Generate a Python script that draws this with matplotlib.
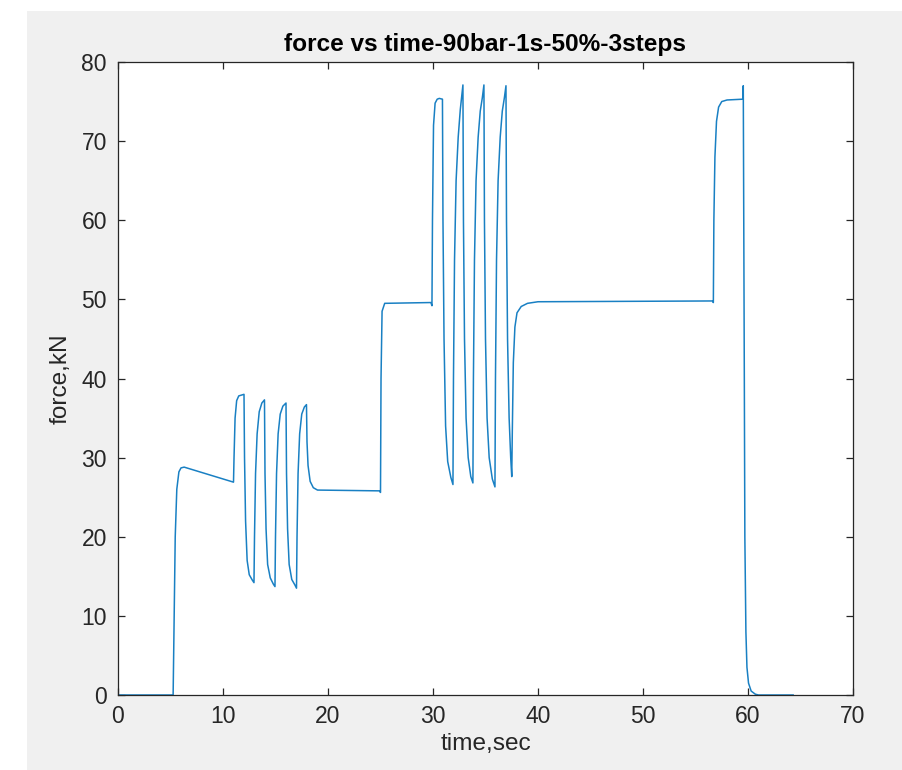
import matplotlib
matplotlib.use("Agg")
import matplotlib.pyplot as plt
from matplotlib.patches import Rectangle

# Waypoints (time in s, force in kN)
time_s = [
    0.0, 5.25, 5.35, 5.45, 5.6, 5.8, 6.0, 6.3, 11.0,
    11.05, 11.15, 11.3, 11.5, 12.0,
    12.05, 12.15, 12.3, 12.5, 12.8, 12.95,
    13.0, 13.1, 13.25, 13.45, 13.7, 13.95,
    14.0, 14.1, 14.25, 14.5, 14.8, 14.95,
    15.0, 15.1, 15.25, 15.45, 15.7, 16.0,
    16.05, 16.15, 16.3, 16.55, 16.85, 17.0,
    17.05, 17.15, 17.3, 17.5, 17.75, 17.95,
    18.0, 18.1, 18.3, 18.6, 19.0, 24.9, 25.0,
    25.05, 25.15, 25.4, 29.8, 29.9,
    29.95, 30.05, 30.2, 30.4, 30.6, 30.9,
    30.95, 31.05, 31.2, 31.4, 31.7, 31.9,
    31.95, 32.05, 32.2, 32.4, 32.6, 32.75, 32.85,
    32.9, 33.0, 33.15, 33.35, 33.6, 33.8,
    33.85, 33.95, 34.1, 34.3, 34.5, 34.7, 34.85,
    34.9, 35.0, 35.15, 35.35, 35.65, 35.9,
    35.95, 36.05, 36.2, 36.4, 36.6, 36.8, 36.95,
    37.0, 37.1, 37.25, 37.4, 37.5,
    37.55, 37.65, 37.8, 38.0, 38.4, 39.0, 40.0, 56.6, 56.7,
    56.75, 56.85, 57.0, 57.2, 57.5, 58.0, 59.5, 59.55,
    59.6, 59.65, 59.7, 59.8, 59.9, 60.05, 60.3, 60.7, 61.0, 64.3,
]
force_kN = [
    0.0, 0.0, 10.0, 20.0, 26.0, 28.2, 28.7, 28.8, 26.9,
    30.0, 35.0, 37.2, 37.8, 38.0,
    30.0, 22.0, 17.0, 15.2, 14.5, 14.2,
    20.0, 28.0, 33.0, 35.8, 36.9, 37.3,
    28.0, 21.0, 16.5, 14.8, 14.0, 13.7,
    20.0, 28.0, 33.0, 35.5, 36.5, 36.9,
    28.0, 21.0, 16.5, 14.6, 13.9, 13.5,
    20.0, 28.0, 33.0, 35.5, 36.4, 36.7,
    32.0, 29.0, 27.0, 26.2, 25.9, 25.8, 25.6,
    40.0, 48.5, 49.5, 49.6, 49.2,
    60.0, 72.0, 74.8, 75.3, 75.4, 75.3,
    60.0, 45.0, 34.0, 29.5, 27.5, 26.6,
    40.0, 55.0, 65.0, 70.5, 74.0, 75.8, 77.1,
    60.0, 45.0, 35.0, 30.0, 27.6, 26.8,
    40.0, 55.0, 65.0, 70.5, 73.8, 75.5, 77.1,
    60.0, 45.0, 35.0, 30.0, 27.3, 26.3,
    40.0, 55.0, 65.0, 70.5, 73.8, 75.5, 77.0,
    60.0, 45.0, 35.0, 30.0, 27.6,
    33.0, 42.0, 46.5, 48.3, 49.1, 49.5, 49.7, 49.8, 49.6,
    60.0, 68.0, 72.5, 74.3, 75.0, 75.2, 75.3, 77.0,
    60.0, 40.0, 20.0, 8.0, 3.5, 1.5, 0.5, 0.1, 0.0, 0.0,
]

x_ticks = [0, 10, 20, 30, 40, 50, 60, 70]
y_ticks = [0, 10, 20, 30, 40, 50, 60, 70, 80]

plt.rcParams['font.family'] = ['Liberation Sans', 'DejaVu Sans']

W, H = 903, 770
fig = plt.figure(figsize=(W / 100, H / 100), dpi=100, facecolor='white')
fig.patches.append(Rectangle((27 / W, 0), 1 - 27 / W, 1 - 11 / H,
                             transform=fig.transFigure, facecolor='#f0f0f0',
                             edgecolor='none', zorder=-10))

ax = fig.add_axes([118 / W, 1 - 695 / H, (853 - 118) / W, (695 - 62) / H])
ax.set_facecolor('white')
ax.plot(time_s, force_kN, color='#0072BD', lw=1.1, alpha=0.9)

ax.set_xlim(0, 70)
ax.set_ylim(0, 80)
ax.set_xticks(x_ticks)
ax.set_yticks(y_ticks)
ax.tick_params(direction='in', top=True, right=True, length=5, width=0.9,
               color='#262626', labelcolor='#262626', labelsize=16.5)
ax.tick_params(axis='x', pad=7)
ax.tick_params(axis='y', pad=8)
for s in ax.spines.values():
    s.set_color('#262626')
    s.set_linewidth(0.9)

ax.set_title('force vs time-90bar-1s-50%-3steps', fontsize=17.6, fontweight='bold',
             color='black', pad=8)
ax.set_xlabel('time,sec', fontsize=17.6, color='#262626', labelpad=4)
ax.set_ylabel('force,kN', fontsize=17.6, color='#262626', labelpad=7)

fig.savefig('out.png', dpi=100, facecolor=fig.get_facecolor())
